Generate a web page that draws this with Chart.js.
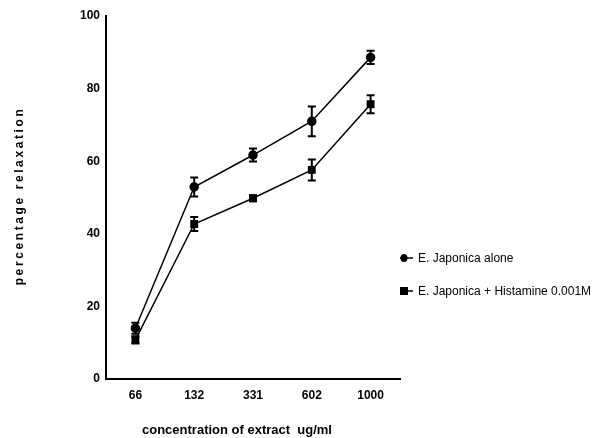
<!DOCTYPE html>
<html>
<head>
<meta charset="utf-8">
<script src="https://cdn.jsdelivr.net/npm/chart.js@4"></script>
<style>
  html, body { margin: 0; padding: 0; background: #fff; }
  #wrap { width: 592px; height: 438px; position: relative; }
</style>
</head>
<body>
<div id="wrap"><canvas id="chart" width="592" height="438"></canvas></div>
<script>
const concentrations = ['66', '132', '331', '602', '1000'];
const aloneMean = [14, 52.9, 61.7, 71, 88.6];
const aloneSem = [1.5, 2.6, 1.8, 4.1, 1.8];
const histMean = [10.8, 42.7, 49.8, 57.6, 75.7];
const histSem = [1.0, 1.9, 0.8, 2.9, 2.5];
const yTicks = [0, 20, 40, 60, 80, 100];
const seriesNames = ['E. Japonica alone', 'E. Japonica + Histamine 0.001M'];

const FONT = '"Liberation Sans Narrow", "Liberation Sans", Arial, sans-serif';

// error bars drawn from scale positions
const errorBars = {
  id: 'errorBars',
  afterDatasetsDraw(chart) {
    const { ctx, scales: { x, y } } = chart;
    const sems = [aloneSem, histSem];
    ctx.save();
    ctx.strokeStyle = '#000';
    ctx.lineWidth = 2;
    chart.data.datasets.forEach((ds, di) => {
      ds.data.forEach((v, i) => {
        const px = x.getPixelForValue(i);
        const top = y.getPixelForValue(v + sems[di][i]);
        const bot = y.getPixelForValue(v - sems[di][i]);
        ctx.beginPath();
        ctx.moveTo(px, top); ctx.lineTo(px, bot);
        ctx.moveTo(px - 4, top); ctx.lineTo(px + 4, top);
        ctx.moveTo(px - 4, bot); ctx.lineTo(px + 4, bot);
        ctx.stroke();
      });
    });
    ctx.restore();
  }
};

// axis titles and legend placed like the original figure
const labelsAndLegend = {
  id: 'labelsAndLegend',
  afterDraw(chart) {
    const { ctx } = chart;
    ctx.save();
    ctx.fillStyle = '#000';
    ctx.font = 'bold 13px ' + FONT;
    ctx.textAlign = 'left';
    ctx.textBaseline = 'alphabetic';
    ctx.fillText('concentration of extract  ug/ml', 142, 434);

    ctx.translate(19.5, 196);
    ctx.rotate(-Math.PI / 2);
    ctx.font = 'bold 12px "Liberation Sans", Arial, sans-serif';
    ctx.letterSpacing = '2.6px';
    ctx.textAlign = 'center';
    ctx.textBaseline = 'middle';
    ctx.fillText('percentage relaxation', 0, 0);
    ctx.setTransform(1, 0, 0, 1, 0, 0);
    ctx.letterSpacing = '0px';

    const rows = [258, 291];
    ctx.font = '12px ' + FONT;
    ctx.textAlign = 'left';
    ctx.textBaseline = 'middle';
    rows.forEach((ry, i) => {
      ctx.strokeStyle = '#000';
      ctx.lineWidth = 1.5;
      ctx.beginPath();
      ctx.moveTo(400, ry); ctx.lineTo(413, ry);
      ctx.stroke();
      ctx.beginPath();
      if (i === 0) {
        ctx.ellipse(404, ry, 3.5, 4, 0, 0, Math.PI * 2);
      } else {
        ctx.rect(400, ry - 4, 8, 8);
      }
      ctx.fill();
      ctx.fillText(seriesNames[i], 418, ry + 1);
    });
    ctx.restore();
  }
};

new Chart(document.getElementById('chart'), {
  type: 'line',
  plugins: [errorBars, labelsAndLegend],
  data: {
    labels: concentrations,
    datasets: [
      {
        label: seriesNames[0],
        data: aloneMean,
        borderColor: '#000',
        backgroundColor: '#000',
        borderWidth: 1.5,
        pointStyle: 'circle',
        pointRadius: 4,
        tension: 0,
      },
      {
        label: seriesNames[1],
        data: histMean,
        borderColor: '#000',
        backgroundColor: '#000',
        borderWidth: 1.5,
        pointStyle: 'rect',
        pointRadius: 4.5,
        tension: 0,
      },
    ],
  },
  options: {
    responsive: false,
    animation: false,
    layout: { padding: { left: 0, top: 16, right: 192, bottom: 0 } },
    plugins: { legend: { display: false }, tooltip: { enabled: false } },
    scales: {
      x: {
        offset: true,
        grid: { display: false, drawTicks: true, tickLength: 5, tickWidth: 2, color: '#000', offset: false },
        border: { display: true, color: '#000', width: 2 },
        ticks: { color: '#000', font: { family: FONT, size: 12, weight: 'bold' }, padding: 4 },
        afterFit(scale) { scale.height = 59; },
      },
      y: {
        min: 0,
        max: 100,
        afterBuildTicks(scale) { scale.ticks = yTicks.map(v => ({ value: v })); },
        grid: { display: false, drawTicks: true, tickLength: 5, tickWidth: 2, color: '#000' },
        border: { display: true, color: '#000', width: 2 },
        ticks: { color: '#000', font: { family: FONT, size: 12, weight: 'bold' }, padding: 1 },
        afterFit(scale) { scale.width = 106; },
      },
    },
  },
});
</script>
</body>
</html>
